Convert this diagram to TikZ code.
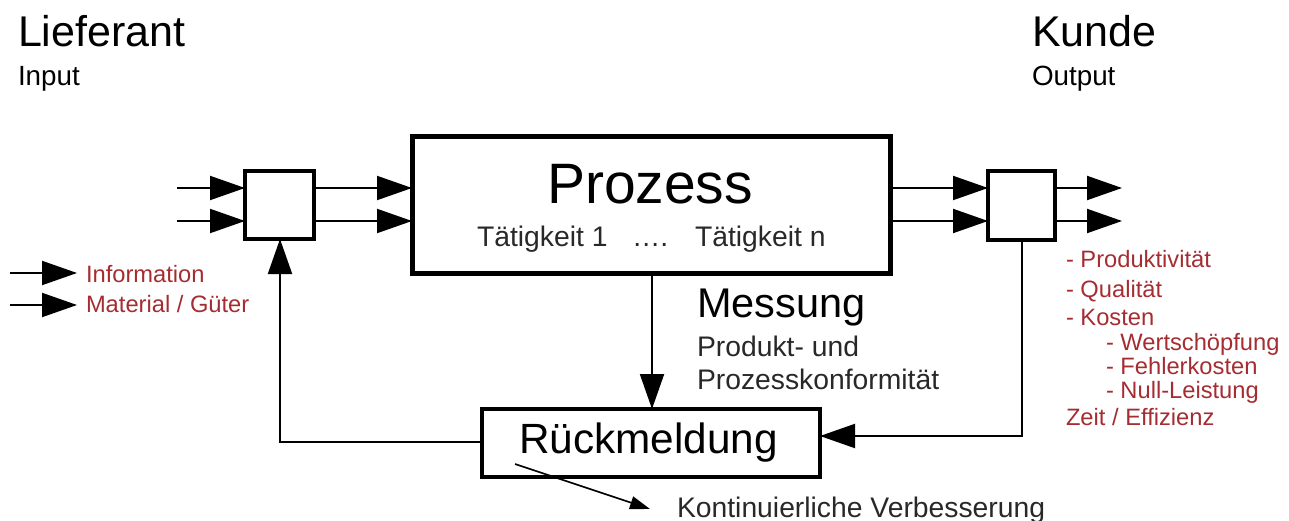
\documentclass[tikz,border=0pt]{standalone}
\usepackage{fontspec}
\setmainfont{Liberation Sans}
\usetikzlibrary{arrows.meta}
\definecolor{redtxt}{RGB}{165,45,50}
\definecolor{graytxt}{RGB}{40,40,40}
\tikzset{
  txt/.style={anchor=base west,inner sep=0pt,outer sep=0pt},
  big/.style={txt,font=\fontsize{43}{48}\selectfont},
  mid/.style={txt,font=\fontsize{28.3}{32}\selectfont},
  red/.style={txt,font=\fontsize{23.7}{27}\selectfont,text=redtxt},
  flow/.style={line width=2pt,-{Triangle[length=35pt,width=24pt]}},
  small/.style={line width=1.6pt,-{Triangle[length=20pt,width=13pt]}},
}
\begin{document}
\begin{tikzpicture}[x=1pt,y=-1pt]
\useasboundingbox (0,0) rectangle (1289,521);
% headers
\node[big] (lief) at (18,47) {Lieferant};
\node[txt,font=\fontsize{27.8}{32}\selectfont] (inp) at (18,86) {Input};
\node[big] (kunde) at (1032,47) {Kunde};
\node[txt,font=\fontsize{27.8}{32}\selectfont] (outp) at (1032,86) {Output};
% boxes
\draw[line width=4pt] (245,171) rectangle (314,239);
\coordinate (lboxS) at (280,239);
\draw[line width=5pt] (412,137) rectangle (890,273);
\coordinate (procS) at (652,273);
\draw[line width=4pt] (988,171) rectangle (1055,240);
\coordinate (rboxS) at (1022,240);
\draw[line width=3.5pt] (482,409) rectangle (820,477);
\coordinate (rueckN) at (652,409);
\coordinate (rueckW) at (482,442);
\coordinate (rueckE) at (820,436);
% texts in boxes
\node[txt,font=\fontsize{57}{64}\selectfont] (proz) at (547,204) {Prozess};
\node[mid,text=graytxt] (t1) at (477,247) {Tätigkeit 1};
\node[mid,text=graytxt] (dots) at (632,247) {….};
\node[mid,text=graytxt] (tn) at (695,247) {Tätigkeit n};
\node[big,font=\fontsize{42.3}{48}\selectfont] (rueck) at (519,453) {Rückmeldung};
% arrows in
\coordinate (a1) at (177,188);
\coordinate (a2) at (177,221);
\coordinate (lbW1) at (245,188);
\coordinate (lbW2) at (245,221);
\draw[flow] (a1) -- (lbW1);
\draw[flow] (a2) -- (lbW2);
\coordinate (lbE1) at (314,188);
\coordinate (lbE2) at (314,221);
\coordinate (prW1) at (412,188);
\coordinate (prW2) at (412,221);
\draw[flow] (lbE1) -- (prW1);
\draw[flow] (lbE2) -- (prW2);
\coordinate (prE1) at (890,188);
\coordinate (prE2) at (890,221);
\coordinate (rbW1) at (988,188);
\coordinate (rbW2) at (988,221);
\draw[flow] (prE1) -- (rbW1);
\draw[flow] (prE2) -- (rbW2);
\coordinate (rbE1) at (1055,188);
\coordinate (rbE2) at (1055,221);
\coordinate (o1) at (1122,188);
\coordinate (o2) at (1122,221);
\draw[flow] (rbE1) -- (o1);
\draw[flow] (rbE2) -- (o2);
% measurement
\draw[flow] (procS) -- (rueckN);
\node[big,font=\fontsize{41.5}{46}\selectfont] (mess) at (697,317) {Messung};
\node[mid,text=graytxt] (pk1) at (697,356) {Produkt- und};
\node[mid,text=graytxt] (pk2) at (697,389) {Prozesskonformität};
% feedback
\draw[flow] (rboxS) |- (rueckE);
\draw[flow] (rueckW) -| (lboxS);
% continuous improvement
\coordinate (k1) at (515,464);
\coordinate (k2) at (650,509);
\draw[small] (k1) -- (k2);
\node[mid,text=graytxt] (kont) at (677,517) {Kontinuierliche Verbesserung};
% legend
\coordinate (l1a) at (10,273);
\coordinate (l1b) at (77,273);
\coordinate (l2a) at (10,305);
\coordinate (l2b) at (77,305);
\draw[flow] (l1a) -- (l1b);
\draw[flow] (l2a) -- (l2b);
\node[red] (info) at (86,282) {Information};
\node[red] (mat) at (86,312) {Material / Güter};
% right list
\node[red] (r1) at (1066,267) {- Produktivität};
\node[red] (r2) at (1066,297) {- Qualität};
\node[red] (r3) at (1066,325) {- Kosten};
\node[red] (r4) at (1106,350) {- Wertschöpfung};
\node[red] (r5) at (1106,374) {- Fehlerkosten};
\node[red] (r6) at (1106,398) {- Null-Leistung};
\node[red] (r7) at (1066,425) {Zeit / Effizienz};
\end{tikzpicture}
\end{document}
